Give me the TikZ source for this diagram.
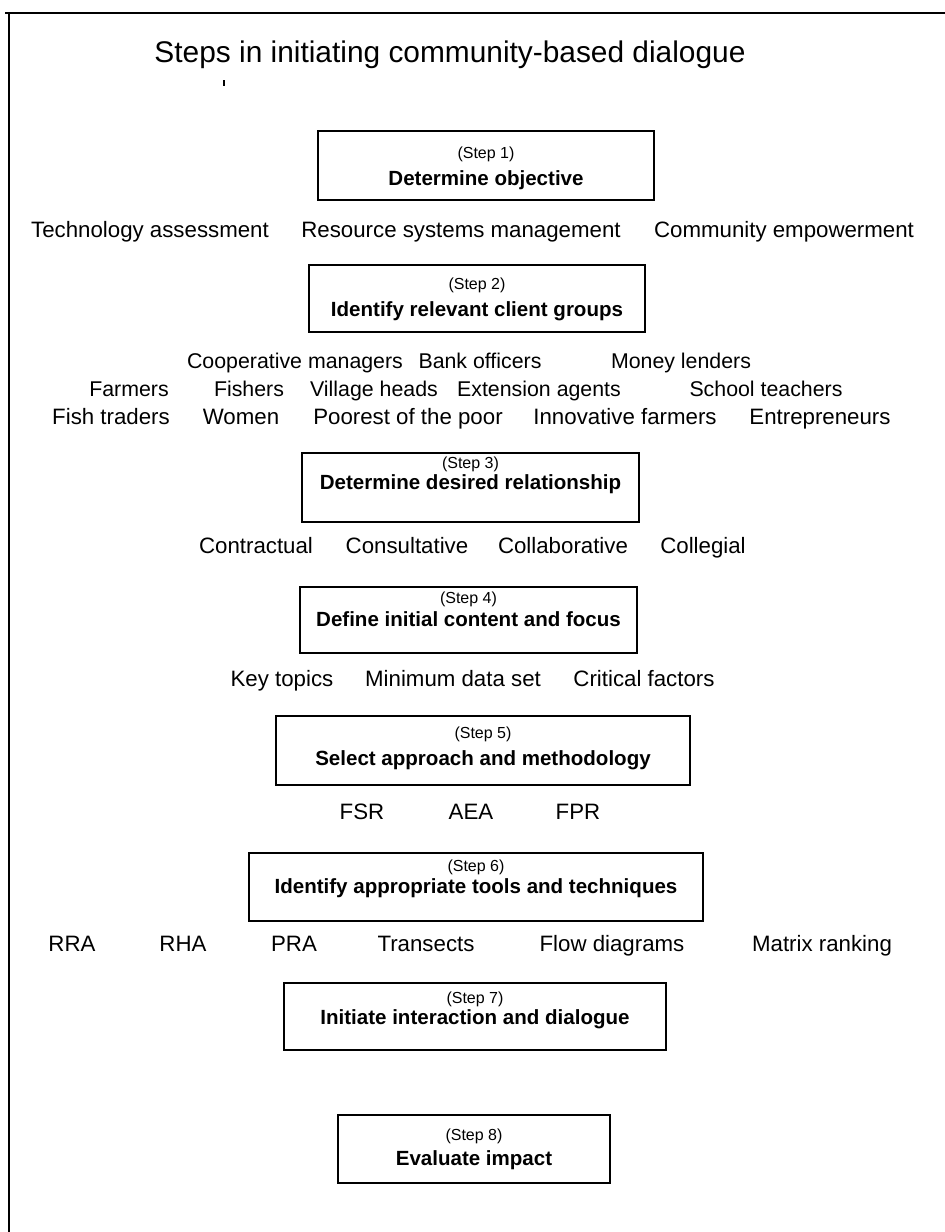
\documentclass[tikz,border=0pt]{standalone}
\usepackage{fontspec}
\setmainfont{Liberation Sans}
\begin{document}
\begin{tikzpicture}[x=0.75pt,y=-0.75pt,
  stepbox/.style 2 args={draw, line width=1.1pt, minimum width=#1*0.75pt,
    minimum height=#2*0.75pt, inner sep=0pt, outer sep=0pt},
  steplabel/.style={inner sep=0pt, text height=8.6pt, text depth=0pt,
    font=\fontsize{12}{14}\selectfont},
  steptitle/.style={inner sep=0pt, text height=11.1pt, text depth=0pt,
    font=\fontsize{15.4}{18}\selectfont\bfseries},
  item/.style={inner sep=0pt, text height=12pt, text depth=0pt,
    font=\fontsize{16.7}{20}\selectfont},
  smallitem/.style={inner sep=0pt, text height=11.5pt, text depth=0pt,
    font=\fontsize{16}{19}\selectfont},
  heading/.style={inner sep=0pt, text height=16.1pt, text depth=0pt,
    font=\fontsize{22.4}{26}\selectfont},
  frame/.style={line width=1pt}]
\useasboundingbox (0,0) rectangle (945,1232);

% page frame: top rule and left rule
\coordinate (ftl) at (5,13);
\coordinate (ftr) at (945,13);
\coordinate (flt) at (9,13);
\coordinate (flb) at (9,1232);
\draw[frame] (ftl) -- (ftr);
\draw[frame] (flt) -- (flb);

% heading
\node[heading] (title) at (450,52) {Steps in initiating community-based dialogue};
\coordinate (tick1) at (224,80);
\coordinate (tick2) at (224,86);
\draw[line width=0.9pt] (tick1) -- (tick2);

% step 1
\node[stepbox={336}{69}] (s1) at (486,165.5) {};
\node[steplabel] (s1l) at (486,153) {(Step 1)};
\node[steptitle] (s1t) at (486,178) {Determine objective};
\node[item] (o1) at (150,229) {Technology assessment};
\node[item] (o2) at (461,229) {Resource systems management};
\node[item] (o3) at (784,229) {Community empowerment};

% step 2
\node[stepbox={336}{67}] (s2) at (477,298.5) {};
\node[steplabel] (s2l) at (477,284) {(Step 2)};
\node[steptitle] (s2t) at (477,309) {Identify relevant client groups};
\node[smallitem] (g1) at (295,361) {Cooperative managers};
\node[smallitem] (g2) at (480,361) {Bank officers};
\node[smallitem] (g3) at (681,361) {Money lenders};
\node[smallitem] (g4) at (129,389) {Farmers};
\node[smallitem] (g5) at (249,389) {Fishers};
\node[smallitem] (g6) at (374,389) {Village heads};
\node[smallitem] (g7) at (539,389) {Extension agents};
\node[smallitem] (g8) at (766,389) {School teachers};
\node[item] (g9) at (111,416) {Fish traders};
\node[item] (g10) at (241,416) {Women};
\node[item] (g11) at (408,416) {Poorest of the poor};
\node[item] (g12) at (625,416) {Innovative farmers};
\node[item] (g13) at (820,416) {Entrepreneurs};

% step 3
\node[stepbox={337}{69}] (s3) at (470.5,487.5) {};
\node[steplabel] (s3l) at (470.5,463) {(Step 3)};
\node[steptitle] (s3t) at (470.5,482) {Determine desired relationship};
\node[item] (r1) at (256,545) {Contractual};
\node[item] (r2) at (407,545) {Consultative};
\node[item] (r3) at (563,545) {Collaborative};
\node[item] (r4) at (703,545) {Collegial};

% step 4
\node[stepbox={337}{66}] (s4) at (468.5,620) {};
\node[steplabel] (s4l) at (468.5,598) {(Step 4)};
\node[steptitle] (s4t) at (468.5,619) {Define initial content and focus};
\node[item] (c1) at (282,678) {Key topics};
\node[item] (c2) at (453,678) {Minimum data set};
\node[item] (c3) at (644,678) {Critical factors};

% step 5
\node[stepbox={414}{69}] (s5) at (483,750.5) {};
\node[steplabel] (s5l) at (483,733) {(Step 5)};
\node[steptitle] (s5t) at (483,758) {Select approach and methodology};
\node[item] (a1) at (362,811) {FSR};
\node[item] (a2) at (471,811) {AEA};
\node[item] (a3) at (578,811) {FPR};

% step 6
\node[stepbox={454}{68}] (s6) at (476,887) {};
\node[steplabel] (s6l) at (476,866) {(Step 6)};
\node[steptitle] (s6t) at (476,886) {Identify appropriate tools and techniques};
\node[item] (t1) at (72,943) {RRA};
\node[item] (t2) at (183,943) {RHA};
\node[item] (t3) at (294,943) {PRA};
\node[item] (t4) at (426,943) {Transects};
\node[item] (t5) at (612,943) {Flow diagrams};
\node[item] (t6) at (822,943) {Matrix ranking};

% step 7
\node[stepbox={382}{67}] (s7) at (475,1016.5) {};
\node[steplabel] (s7l) at (475,998) {(Step 7)};
\node[steptitle] (s7t) at (475,1017) {Initiate interaction and dialogue};

% step 8
\node[stepbox={272}{68}] (s8) at (474,1149) {};
\node[steplabel] (s8l) at (474,1135) {(Step 8)};
\node[steptitle] (s8t) at (474,1158) {Evaluate impact};
\end{tikzpicture}
\end{document}
